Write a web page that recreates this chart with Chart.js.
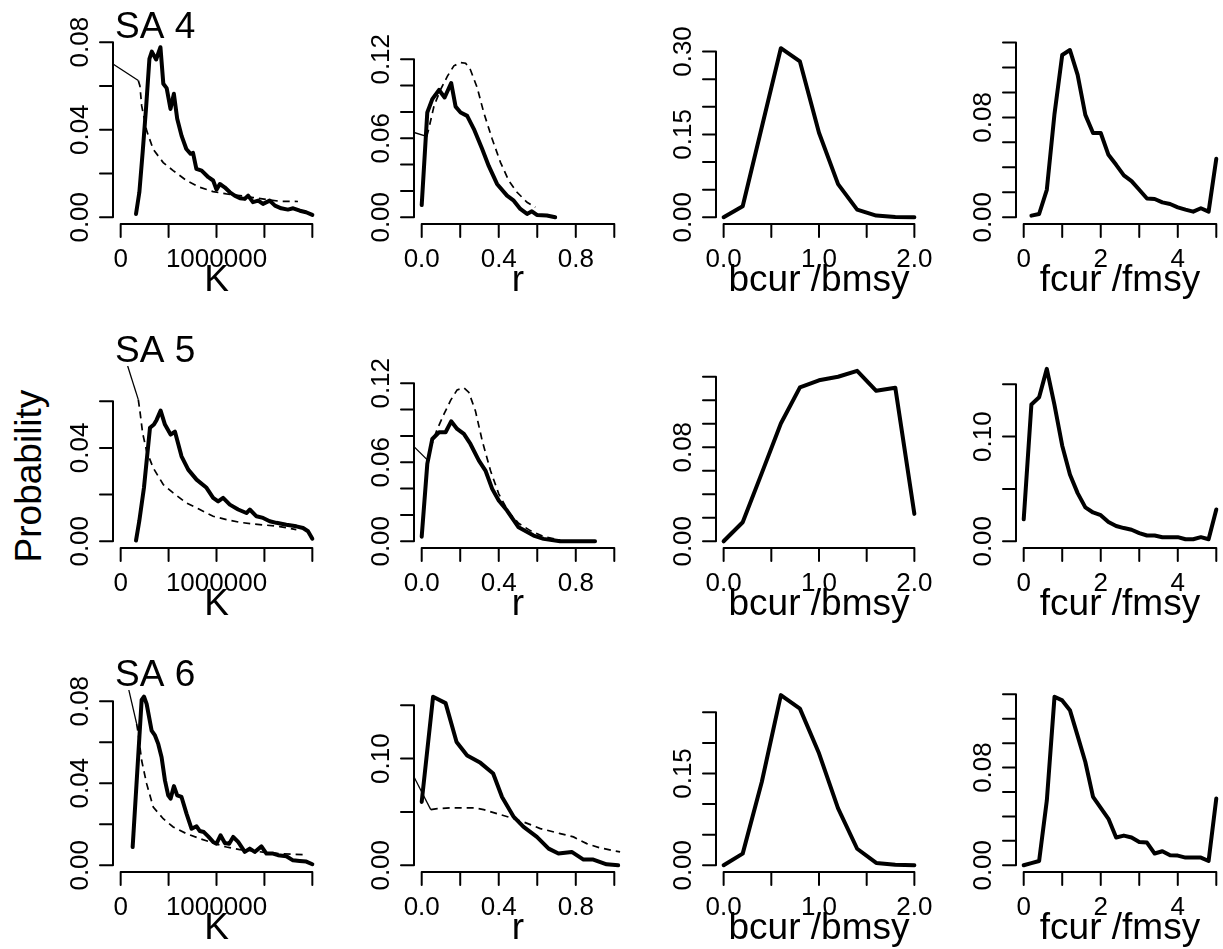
<!DOCTYPE html>
<html>
<head>
<meta charset="utf-8">
<script src="https://cdn.jsdelivr.net/npm/chart.js@4.4.1/dist/chart.umd.min.js"></script>
<style>
  html, body { margin: 0; padding: 0; background: #fff; overflow: hidden; }
  body { width: 1223px; height: 949px; position: relative; }
  canvas { position: absolute; }
  #ylab {
    position: absolute; left: 28px; top: 476px;
    font: 37px "Liberation Sans", Arial, sans-serif; line-height: 1;
    transform: translate(-50%, -50%) rotate(-90deg); white-space: nowrap;
  }
</style>
</head>
<body>
<div id="ylab">Probability</div>
<script>
// Scenarios and panel titles
const scenarios = ["SA 4", "SA 5", "SA 6"];
const axisTitles = ["K", "r", "bcur /bmsy", "fcur /fmsy"];

// x limits per column (R pads them by 4%) and bottom axis ticks
const xLimits = [[0, 2000000], [0, 1], [0, 2], [0, 5]];
const xTicks = [
    [0, 500000, 1000000, 1500000, 2000000],
    [0, 0.2, 0.4, 0.6, 0.8, 1.0],
    [0, 0.5, 1.0, 1.5, 2.0],
    [0, 1, 2, 3, 4, 5],
];
const xTickLabels = [
    ["0", "", "1000000", "", ""],
    ["0.0", "", "0.4", "", "0.8", ""],
    ["0.0", "", "1.0", "", "2.0"],
    ["0", "", "2", "", "4", ""],
];

// y upper limit per panel (row = scenario), tick step and labelled step
const yMax = [
    [0.077, 0.128, 0.305, 0.135],
    [0.0722, 0.128, 0.1434, 0.161],
    [0.0822, 0.158, 0.2754, 0.138],
];
const yStep = [[0.02, 0.02, 0.05, 0.02], [0.02, 0.02, 0.02, 0.05], [0.02, 0.05, 0.05, 0.02]];
const yLabelStep = [[0.04, 0.06, 0.15, 0.08], [0.04, 0.06, 0.08, 0.10], [0.04, 0.10, 0.15, 0.08]];

// K: posterior (solid) and prior (dashed)
const kX_sa4 = [160000, 195000, 230000, 265000, 300000, 325000, 370000, 415000, 445000, 480000, 520000, 555000, 590000, 635000, 685000, 730000, 755000, 790000, 845000, 915000, 965000, 1000000, 1035000, 1085000, 1140000, 1190000, 1245000, 1295000, 1330000, 1380000, 1435000, 1485000, 1555000, 1610000, 1675000, 1745000, 1800000, 1870000, 1935000, 2000000];
const kPost_sa4 = [0.0015, 0.0114, 0.030, 0.050, 0.0724, 0.0757, 0.0721, 0.0777, 0.061, 0.059, 0.0495, 0.0564, 0.045, 0.0373, 0.0312, 0.029, 0.0294, 0.0221, 0.0213, 0.0183, 0.0168, 0.0126, 0.0152, 0.0137, 0.0114, 0.0099, 0.0087, 0.0084, 0.0099, 0.0069, 0.0076, 0.0061, 0.0076, 0.0053, 0.0041, 0.0035, 0.0041, 0.003, 0.0023, 0.0011];
const kPriorX_sa4 = [-80000, 184000, 201000, 219000, 271000, 340000, 444000, 548000, 687000, 826000, 965000, 1104000, 1243000, 1382000, 1520000, 1660000, 1850000];
const kPrior_sa4 = [0.070, 0.0625, 0.060, 0.051, 0.0396, 0.031, 0.025, 0.0213, 0.0168, 0.0137, 0.0117, 0.0107, 0.0099, 0.009, 0.0081, 0.0073, 0.0072];

const kX_sa5 = [160000, 194000, 243000, 306000, 347000, 375000, 417000, 462000, 521000, 566000, 635000, 705000, 792000, 896000, 965000, 1017000, 1069000, 1139000, 1226000, 1312000, 1347000, 1417000, 1486000, 1555000, 1625000, 1729000, 1833000, 1903000, 1955000, 2000000];
const kPost_sa5 = [0.0003, 0.0086, 0.0229, 0.0486, 0.050, 0.052, 0.056, 0.050, 0.0457, 0.047, 0.0364, 0.0307, 0.0264, 0.0229, 0.0186, 0.0171, 0.0186, 0.0157, 0.0136, 0.0121, 0.0136, 0.0107, 0.010, 0.0086, 0.0079, 0.0071, 0.0064, 0.0057, 0.0043, 0.0011];
const kPriorX_sa5 = [73000, 184000, 201000, 229000, 271000, 340000, 444000, 548000, 687000, 826000, 965000, 1104000, 1243000, 1382000, 1520000, 1660000, 1833000];
const kPrior_sa5 = [0.0751, 0.0607, 0.0557, 0.0464, 0.0386, 0.0314, 0.0243, 0.0207, 0.0164, 0.0136, 0.0107, 0.0093, 0.0081, 0.0074, 0.0069, 0.0063, 0.005];

const kX_sa6 = [125000, 219000, 243000, 271000, 323000, 358000, 392000, 427000, 462000, 496000, 521000, 556000, 590000, 635000, 687000, 740000, 792000, 826000, 868000, 913000, 965000, 1000000, 1042000, 1087000, 1132000, 1174000, 1226000, 1295000, 1347000, 1399000, 1469000, 1521000, 1590000, 1642000, 1729000, 1798000, 1868000, 1937000, 2000000];
const kPost_sa6 = [0.0089, 0.0807, 0.0823, 0.0787, 0.0657, 0.0633, 0.0592, 0.0527, 0.0414, 0.0341, 0.0325, 0.0386, 0.0341, 0.0333, 0.0252, 0.0178, 0.019, 0.0167, 0.0162, 0.0141, 0.0114, 0.0105, 0.0146, 0.0109, 0.0105, 0.0138, 0.0114, 0.0065, 0.0081, 0.0065, 0.0092, 0.0057, 0.0057, 0.0049, 0.0044, 0.0024, 0.0021, 0.0018, 0.0005];
const kPriorX_sa6 = [85000, 167000, 184000, 219000, 271000, 340000, 444000, 548000, 687000, 826000, 965000, 1104000, 1243000, 1382000, 1520000, 1660000, 1798000, 1920000];
const kPrior_sa6 = [0.0855, 0.069, 0.064, 0.0511, 0.0398, 0.0284, 0.0227, 0.0187, 0.0154, 0.013, 0.0109, 0.0089, 0.0076, 0.007, 0.0062, 0.0057, 0.0054, 0.0052];

// r: posterior (solid) and prior (dashed)
const rX_sa4 = [0, 0.029, 0.055, 0.09, 0.119, 0.153, 0.176, 0.202, 0.236, 0.271, 0.314, 0.348, 0.391, 0.443, 0.478, 0.512, 0.547, 0.572, 0.598, 0.65, 0.693];
const rPost_sa4 = [0.0093, 0.0796, 0.0897, 0.0967, 0.091, 0.102, 0.084, 0.0796, 0.077, 0.067, 0.0518, 0.039, 0.0253, 0.0164, 0.0126, 0.0063, 0.0025, 0.0045, 0.0018, 0.0013, 0];
const rPriorX_sa4 = [-0.04, 0.026, 0.038, 0.064, 0.098, 0.133, 0.167, 0.202, 0.228, 0.253, 0.288, 0.322, 0.366, 0.409, 0.452, 0.495, 0.547, 0.59];
const rPrior_sa4 = [0.0644, 0.0614, 0.068, 0.0846, 0.097, 0.107, 0.115, 0.1175, 0.117, 0.112, 0.0985, 0.0796, 0.0594, 0.0417, 0.0278, 0.019, 0.0114, 0.0076];

const rX_sa5 = [0, 0.029, 0.055, 0.09, 0.124, 0.153, 0.184, 0.219, 0.253, 0.297, 0.331, 0.366, 0.40, 0.443, 0.503, 0.581, 0.633, 0.719, 0.9];
const rPost_sa5 = [0.0035, 0.0587, 0.0777, 0.0828, 0.0828, 0.0911, 0.0853, 0.0815, 0.0739, 0.0613, 0.0537, 0.0398, 0.0309, 0.0233, 0.0106, 0.0043, 0.0018, 0, 0];
const rPriorX_sa5 = [-0.04, 0.029, 0.047, 0.081, 0.116, 0.15, 0.184, 0.219, 0.245, 0.279, 0.314, 0.357, 0.40, 0.452, 0.503, 0.564, 0.633, 0.719];
const rPrior_sa5 = [0.0719, 0.0618, 0.0714, 0.0853, 0.0967, 0.107, 0.115, 0.1165, 0.113, 0.099, 0.0765, 0.0537, 0.036, 0.022, 0.0137, 0.0081, 0.0035, 0.001];

const rX_sa6 = [0, 0.059, 0.124, 0.181, 0.236, 0.305, 0.371, 0.417, 0.478, 0.529, 0.598, 0.659, 0.71, 0.779, 0.84, 0.891, 0.96, 1.02];
const rPost_sa6 = [0.0594, 0.158, 0.152, 0.1156, 0.103, 0.096, 0.086, 0.064, 0.0453, 0.036, 0.0266, 0.0156, 0.011, 0.0125, 0.0053, 0.0053, 0.0009, 0];
const rPriorX_sa6 = [-0.04, 0.047, 0.081, 0.15, 0.271, 0.322, 0.391, 0.46, 0.529, 0.616, 0.719, 0.788, 0.857, 0.926, 1.03];
const rPrior_sa6 = [0.0828, 0.0522, 0.0531, 0.0538, 0.0538, 0.0522, 0.0484, 0.0447, 0.0406, 0.0344, 0.0297, 0.0266, 0.0203, 0.0163, 0.0125];

// bcur/bmsy
const bGrid = [0, 0.2, 0.4, 0.6, 0.8, 1.0, 1.2, 1.4, 1.6, 1.8, 2.0];
const bcur_sa4 = [0, 0.02, 0.163, 0.306, 0.282, 0.153, 0.06, 0.0138, 0.003, 0.0005, 0];
const bcur_sa5 = [0, 0.0162, 0.058, 0.1002, 0.131, 0.137, 0.140, 0.145, 0.128, 0.1307, 0.0233];
const bcur_sa6 = [0, 0.019, 0.136, 0.278, 0.256, 0.183, 0.093, 0.027, 0.0038, 0.001, 0];

// fcur/fmsy
const fGrid = [0, 0.2, 0.4, 0.6, 0.8, 1.0, 1.2, 1.4, 1.6, 1.8, 2.0, 2.2, 2.4, 2.6, 2.8, 3.0, 3.2, 3.4, 3.6, 3.8, 4.0, 4.2, 4.4, 4.6, 4.8, 5.0];
const fcur_sa4 = [null, 0.0013, 0.0026, 0.022, 0.083, 0.130, 0.134, 0.114, 0.082, 0.0675, 0.0675, 0.050, 0.042, 0.0336, 0.029, 0.022, 0.015, 0.0146, 0.0119, 0.0106, 0.0079, 0.0061, 0.0045, 0.0072, 0.0045, 0.0469];
const fcur_sa5 = [0.021, 0.1307, 0.1375, 0.1647, 0.130, 0.0913, 0.0637, 0.046, 0.0324, 0.0275, 0.0249, 0.0184, 0.0146, 0.0126, 0.011, 0.0078, 0.0055, 0.0055, 0.0039, 0.0039, 0.0039, 0.0019, 0.0019, 0.0039, 0.0019, 0.0304];
const fcur_sa6 = [0, 0.0017, 0.0035, 0.053, 0.138, 0.135, 0.127, 0.106, 0.0846, 0.056, 0.047, 0.038, 0.0227, 0.0243, 0.0227, 0.019, 0.0186, 0.0096, 0.0115, 0.0082, 0.0079, 0.0063, 0.0063, 0.0063, 0.0035, 0.0546];

// Panel layout (plot region in page pixels)
const plotLeft = [113, 414, 716, 1016];
const plotWidth = [207, 208, 206, 208];
const plotTop = [42, 366, 690];
const plotHeight = 182;
const padLeft = 113, padTop = 42, canvasW = 330, canvasH = 324;
const TICK = 13;
const FONT = "'Liberation Sans', Arial, Helvetica, sans-serif";

function pts(xs, ys) {
    const out = [];
    xs.forEach((x, i) => { if (ys[i] !== null) out.push({ x: x, y: ys[i] }); });
    return out;
}

// R style range: data limits padded by 4% on each side
function padRange(lo, hi) {
    const d = (hi - lo) * 0.04;
    return [lo - d, hi + d];
}

function yTickValues(r, c) {
    const top = padRange(0, yMax[r][c])[1];
    const step = yStep[r][c];
    const vals = [];
    for (let i = 0; i * step <= top + 1e-9; i++) vals.push(+(i * step).toFixed(3));
    return vals;
}

// Axes drawn the way base R does: line from first to last tick, outward ticks
const rAxes = {
    id: "rAxes",
    afterDraw(chart, args, o) {
        const ctx = chart.ctx;
        const a = chart.chartArea;
        const sx = chart.scales.x, sy = chart.scales.y;
        ctx.save();
        ctx.strokeStyle = "#000";
        ctx.fillStyle = "#000";
        ctx.lineWidth = 2;
        ctx.lineCap = "round";
        ctx.beginPath();
        ctx.moveTo(sx.getPixelForValue(o.xTicks[0]), a.bottom);
        ctx.lineTo(sx.getPixelForValue(o.xTicks[o.xTicks.length - 1]), a.bottom);
        o.xTicks.forEach(v => {
            const p = sx.getPixelForValue(v);
            ctx.moveTo(p, a.bottom);
            ctx.lineTo(p, a.bottom + TICK);
        });
        ctx.moveTo(a.left, sy.getPixelForValue(o.yTicks[0]));
        ctx.lineTo(a.left, sy.getPixelForValue(o.yTicks[o.yTicks.length - 1]));
        o.yTicks.forEach(v => {
            const p = sy.getPixelForValue(v);
            ctx.moveTo(a.left, p);
            ctx.lineTo(a.left - TICK, p);
        });
        ctx.stroke();

        ctx.font = "26px " + FONT;
        ctx.textAlign = "center";
        ctx.textBaseline = "alphabetic";
        o.xTicks.forEach((v, i) => {
            if (o.xLabels[i]) ctx.fillText(o.xLabels[i], sx.getPixelForValue(v), a.bottom + 43);
        });
        o.yTicks.forEach((v, i) => {
            if (!o.yLabels[i]) return;
            ctx.save();
            ctx.translate(a.left - 25, sy.getPixelForValue(v));
            ctx.rotate(-Math.PI / 2);
            ctx.fillText(o.yLabels[i], 0, 0);
            ctx.restore();
        });

        ctx.font = "37px " + FONT;
        ctx.fillText(o.xTitle, (a.left + a.right) / 2, a.bottom + 67);
        if (o.title) {
            ctx.textAlign = "left";
            ctx.fillText(o.title, a.left + 2, a.top - 4);
        }
        ctx.restore();
    }
};

function solid(data) {
    return {
        data: data, showLine: true, borderColor: "#000", borderWidth: 4,
        pointRadius: 0, borderJoinStyle: "round", borderCapStyle: "round",
    };
}

function dashed(data) {
    return {
        data: data, showLine: true, borderColor: "#000", borderWidth: 1.7,
        borderDash: [7, 5], pointRadius: 0,
        segment: {
            // first stretch of the prior is drawn as a plain thin line
            borderDash: ctx => (ctx.p0DataIndex === 0 ? [] : undefined),
            borderWidth: ctx => (ctx.p0DataIndex === 0 ? 1.3 : undefined),
        },
    };
}

const panels = [
    [
        [solid(pts(kX_sa4, kPost_sa4)), dashed(pts(kPriorX_sa4, kPrior_sa4))],
        [solid(pts(rX_sa4, rPost_sa4)), dashed(pts(rPriorX_sa4, rPrior_sa4))],
        [solid(pts(bGrid, bcur_sa4))],
        [solid(pts(fGrid, fcur_sa4))],
    ],
    [
        [solid(pts(kX_sa5, kPost_sa5)), dashed(pts(kPriorX_sa5, kPrior_sa5))],
        [solid(pts(rX_sa5, rPost_sa5)), dashed(pts(rPriorX_sa5, rPrior_sa5))],
        [solid(pts(bGrid, bcur_sa5))],
        [solid(pts(fGrid, fcur_sa5))],
    ],
    [
        [solid(pts(kX_sa6, kPost_sa6)), dashed(pts(kPriorX_sa6, kPrior_sa6))],
        [solid(pts(rX_sa6, rPost_sa6)), dashed(pts(rPriorX_sa6, rPrior_sa6))],
        [solid(pts(bGrid, bcur_sa6))],
        [solid(pts(fGrid, fcur_sa6))],
    ],
];

// Build the 3 x 4 grid of charts
for (let r = 0; r < 3; r++) {
    for (let c = 0; c < 4; c++) {
        const canvas = document.createElement("canvas");
        canvas.width = canvasW;
        canvas.height = canvasH;
        canvas.style.left = (plotLeft[c] - padLeft) + "px";
        canvas.style.top = (plotTop[r] - padTop) + "px";
        document.body.appendChild(canvas);

        const xr = padRange(xLimits[c][0], xLimits[c][1]);
        const yr = padRange(0, yMax[r][c]);
        const yt = yTickValues(r, c);
        const lab = yLabelStep[r][c];

        new Chart(canvas.getContext("2d"), {
            type: "scatter",
            data: { datasets: panels[r][c] },
            options: {
                responsive: false,
                animation: false,
                devicePixelRatio: 1,
                events: [],
                layout: {
                    padding: {
                        left: padLeft,
                        top: padTop,
                        right: canvasW - padLeft - plotWidth[c],
                        bottom: canvasH - padTop - plotHeight,
                    },
                },
                scales: {
                    x: { type: "linear", display: false, min: xr[0], max: xr[1] },
                    y: { type: "linear", display: false, min: yr[0], max: yr[1] },
                },
                plugins: {
                    legend: { display: false },
                    tooltip: { enabled: false },
                    rAxes: {
                        xTicks: xTicks[c],
                        xLabels: xTickLabels[c],
                        yTicks: yt,
                        yLabels: yt.map(v => {
                            const k = v / lab;
                            return Math.abs(k - Math.round(k)) < 1e-6 ? v.toFixed(2) : "";
                        }),
                        xTitle: axisTitles[c],
                        title: c === 0 ? scenarios[r] : "",
                    },
                },
            },
            plugins: [rAxes],
        });
    }
}
</script>
</body>
</html>
